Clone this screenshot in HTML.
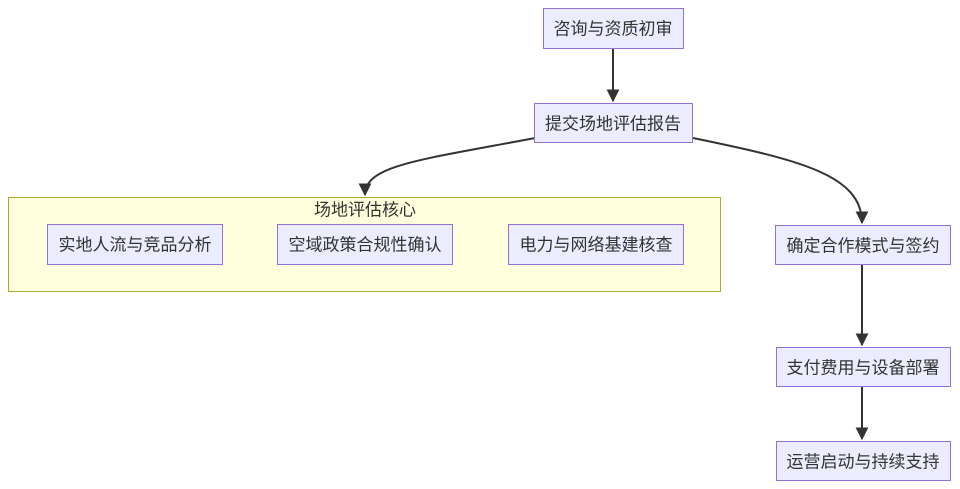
<!DOCTYPE html>
<html><head><meta charset="utf-8"><style>
html,body{margin:0;padding:0;background:#fff;}
svg{display:block}
text{font-family:"Liberation Sans","Noto Sans CJK SC",sans-serif;font-size:17px;fill:#333;text-anchor:middle;dominant-baseline:central}
.n{fill:#ECECFF;stroke:#9370DB;stroke-width:1}
.e{fill:none;stroke:#333;stroke-width:2}
</style></head><body>
<svg width="960" height="489" viewBox="0 0 960 489">
<defs>
<marker id="b" viewBox="0 0 10 10" refX="9" refY="5" markerWidth="13" markerHeight="13" orient="auto" markerUnits="userSpaceOnUse"><path d="M0,0L10,5L0,10z" fill="#333"/></marker></defs>
<rect x="8.5" y="197.5" width="712" height="94" fill="#FFFFDE" stroke="#AAAA33"/>
<text x="365" y="210">场地评估核心</text>
<path class="e" d="M613,48 V101" marker-end="url(#b)"/>
<path class="e" d="M535,138 C420,160 365,165 365,195" marker-end="url(#b)"/>
<path class="e" d="M693,138 C800,160 862,175 862,223" marker-end="url(#b)"/>
<path class="e" d="M862,264 V345" marker-end="url(#b)"/>
<path class="e" d="M862,386 V439" marker-end="url(#b)"/>
<rect class="n" x="543.5" y="8.5" width="140" height="40"/><text x="613" y="29">咨询与资质初审</text>
<rect class="n" x="534.5" y="103.5" width="158" height="39"/><text x="613" y="124">提交场地评估报告</text>
<rect class="n" x="47.5" y="224.5" width="175" height="40"/><text x="135" y="245">实地人流与竞品分析</text>
<rect class="n" x="277.5" y="224.5" width="175" height="40"/><text x="365" y="245">空域政策合规性确认</text>
<rect class="n" x="508.5" y="224.5" width="175" height="40"/><text x="596" y="245">电力与网络基建核查</text>
<rect class="n" x="775.5" y="225.5" width="175" height="39"/><text x="863" y="246">确定合作模式与签约</text>
<rect class="n" x="776.5" y="347.5" width="174" height="39"/><text x="863" y="368">支付费用与设备部署</text>
<rect class="n" x="776.5" y="441.5" width="174" height="39"/><text x="863" y="462">运营启动与持续支持</text>
</svg>
</body></html>
